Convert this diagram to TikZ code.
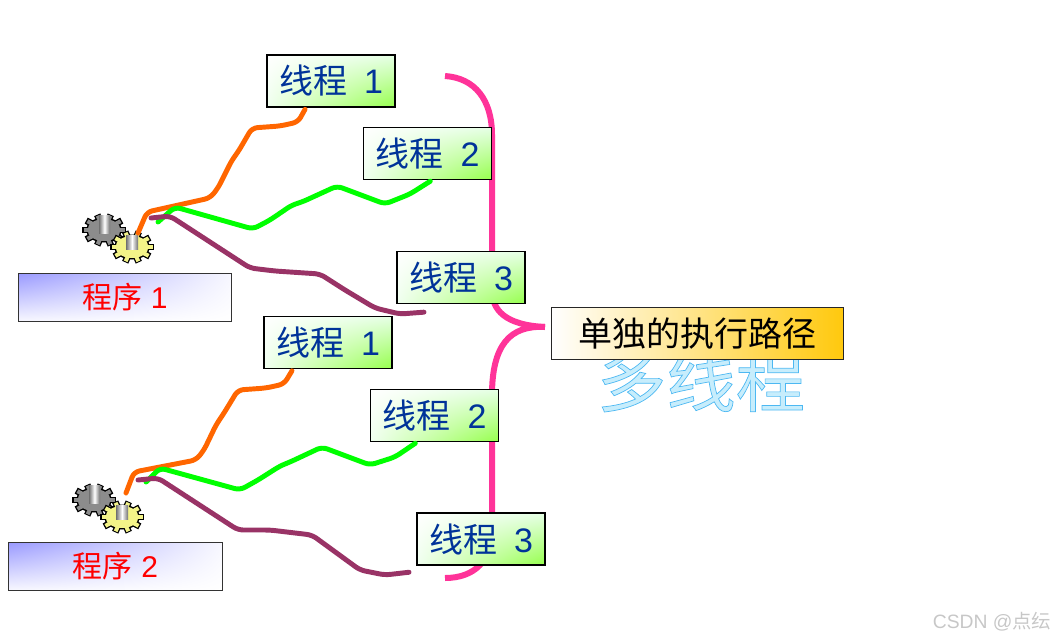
\documentclass[tikz,border=0pt]{standalone}
\usepackage{fontspec}
\setmainfont{Liberation Sans}
\newfontfamily\cjk{Noto Sans CJK SC}
\usetikzlibrary{positioning,shadings}
\definecolor{threadblue}{HTML}{003399}
\definecolor{bracepink}{HTML}{FF3399}
\definecolor{lineorange}{HTML}{FF6600}
\definecolor{linegreen}{HTML}{00FF00}
\definecolor{lineplum}{HTML}{993366}
\definecolor{boltgrey}{HTML}{707070}
\definecolor{cogyellow}{HTML}{F4F488}
\definecolor{coggrey}{HTML}{8C8C8C}
\tikzset{
  threadbox/.style={draw=black,line width=0.9pt,minimum width=96pt,minimum height=39pt,inner sep=0pt,
    upper left=white,upper right=green!10,lower left=green!6,lower right=green!45!lime!70,
    text=threadblue,font=\fontsize{25.5}{30}\selectfont},
  progbox/.style={draw=black!80,line width=0.7pt,minimum width=160pt,minimum height=36pt,inner sep=0pt,
    upper left=blue!40,upper right=blue!3,lower left=blue!3,lower right=white,
    text=red,font=\fontsize{22.5}{28}\selectfont},
  pathbox/.style={draw=black!85,line width=0.7pt,minimum width=219.5pt,minimum height=39.5pt,inner sep=0pt,
    left color=white,middle color=yellow!25!orange!22,right color=yellow!55!orange!95,
    font=\fontsize{25.5}{30}\selectfont},
  wire/.style={line width=3.7pt,rounded corners=4pt,line cap=round,shorten >=1.5pt},
  bolt/.style={left color=boltgrey,right color=boltgrey,middle color=white},
  pics/cog/.style={code={
    \foreach \a in {0,36,...,324}
      \draw[black,line width=5pt] (0,0) -- (\a:22 and 16);
    \fill[black] (0,0) ellipse (18 and 12.5);
    \foreach \a in {0,36,...,324}
      \draw[#1,line width=3pt] (0,0) -- (\a:20.5 and 15);
    \fill[#1] (0,0) ellipse (16.5 and 11);
  }},
  gears/.pic={
    \pic at (0,0) {cog=coggrey};
    \shade[bolt] (-5,-15) rectangle (6,3);
    \pic at (28,17) {cog=cogyellow};
    \shade[bolt] (22,5) rectangle (34,19);
  }
}
\begin{document}
\begin{tikzpicture}[x=0.75pt,y=-0.75pt]
  \useasboundingbox (0,0) rectangle (1059,640);
  % gears and names of the two programs
  \pic (geara) at (104,230) {gears};
  \pic (gearb) at (94,500) {gears};
  \node[progbox] (proga) at (125,297) {{\cjk 程序} 1};
  \node[progbox] (progb) at (115.5,566) {{\cjk 程序} 2};
  % big word under the label
  \node[font=\cjk\fontsize{52}{60}\selectfont] (wordart) at (701,380)
    {\addfontfeature{FakeBold=1.0}\special{pdf:code 0.30 0.72 0.95 RG 0.78 0.93 0.99 rg}多线程};
  % ends of the wires and of the brace
  \coordinate (oa) at (138,233);
  \coordinate (ga) at (158,222);
  \coordinate (pa) at (151,218);
  \coordinate (ob) at (126,493);
  \coordinate (gb) at (146,482);
  \coordinate (pb) at (138,480);
  \coordinate (bt) at (445,76);
  \coordinate (bb) at (445,578);
  \coordinate (tip) at (545,327);
  % brace
  \draw[bracepink,line width=4.5pt] (bt) .. controls (475,78) and (492,100) .. (492,135) -- (492,290)
    .. controls (492,310) and (505,325) .. (tip);
  \draw[bracepink,line width=4.5pt] (tip) .. controls (510,325) and (492,345) .. (492,395) -- (492,530)
    .. controls (492,560) and (475,578) .. (bb);
  % thread boxes
  \node[threadbox] (ta) at (331,81) {{\cjk 线程}\hspace{0.5em}1};
  \node[threadbox] (tb) at (427.5,153.5) {{\cjk 线程}\hspace{0.5em}2};
  \node[threadbox] (tc) at (461,277.5) {{\cjk 线程}\hspace{0.5em}3};
  \node[threadbox] (td) at (328,342.5) {{\cjk 线程}\hspace{0.5em}1};
  \node[threadbox] (te) at (434.5,415.5) {{\cjk 线程}\hspace{0.5em}2};
  \node[threadbox] (tf) at (481,539) {{\cjk 线程}\hspace{0.5em}3};
  \node[pathbox] (route) at (697.5,333.5) {\cjk 单独的执行路径};
  % wires, first program
  \draw[wire,lineorange] (oa) -- (147,212) -- (210,198) -- (218,188) -- (232,160) -- (238,152) -- (252,128) -- (280,126) -- (298,122) -- (ta.south -| 306,0);
  \draw[wire,linegreen] (ga) -- (175,207) -- (253,229) -- (270,220) -- (292,205) -- (302,202) -- (337,186) -- (385,204) -- (410,194) -- (tb.south -| 432,0);
  \draw[wire,lineplum] (pa) -- (170,216) -- (250,268) -- (275,271) -- (320,274) -- (345,290) -- (375,308) -- (400,314) -- (426,312);
  % wires, second program
  \draw[wire,lineorange] (ob) -- (134,472) -- (196,460) -- (204,450) -- (216,425) -- (224,413) -- (238,390) -- (266,388) -- (284,384) -- (td.south -| 293,0);
  \draw[wire,linegreen] (gb) -- (160,468) -- (240,490) -- (258,480) -- (280,466) -- (290,462) -- (322,447) -- (370,465) -- (395,457) -- (te.south -| 417,0);
  \draw[wire,lineplum] (pb) -- (158,478) -- (238,530) -- (270,530) -- (312,535) -- (360,570) -- (385,575) -- (411,572);
  % mark in the corner
  \node[text=black!22,font=\fontsize{14.5}{16}\selectfont,anchor=east] (mark) at (1056,622) {CSDN @{\cjk 点纭}};
\end{tikzpicture}
\end{document}
